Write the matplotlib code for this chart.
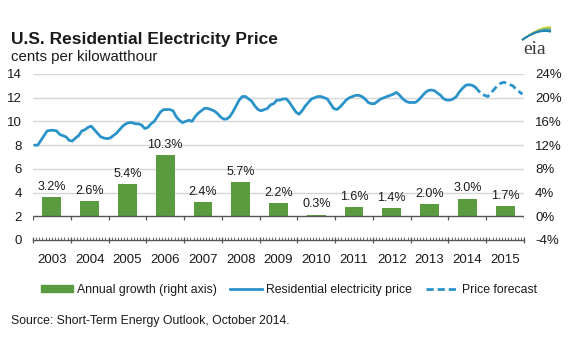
import matplotlib
matplotlib.use("Agg")
import matplotlib.pyplot as plt
from matplotlib.ticker import MultipleLocator, FixedLocator
from matplotlib.patches import Patch
from matplotlib.lines import Line2D
import numpy as np

plt.rcParams['font.family'] = ['Liberation Sans', 'DejaVu Sans']

years = list(range(2003, 2016))
growth = [3.2, 2.6, 5.4, 10.3, 2.4, 5.7, 2.2, 0.3, 1.6, 1.4, 2.0, 3.0, 1.7]
growth_labels = ["3.2%", "2.6%", "5.4%", "10.3%", "2.4%", "5.7%", "2.2%",
                 "0.3%", "1.6%", "1.4%", "2.0%", "3.0%", "1.7%"]

# monthly residential price, cents/kWh, Jan 2003 - Sep 2014 (history)
price_hist = [
    8.0, 8.0, 8.4, 8.8, 9.2, 9.25, 9.25, 9.2, 8.9, 8.8, 8.7, 8.4,        # 2003
    8.35, 8.6, 8.8, 9.2, 9.3, 9.5, 9.6, 9.3, 9.0, 8.7, 8.6, 8.55,        # 2004
    8.6, 8.8, 9.0, 9.3, 9.6, 9.8, 9.9, 9.9, 9.8, 9.8, 9.7, 9.4,          # 2005
    9.5, 9.8, 10.0, 10.4, 10.8, 11.0, 11.0, 11.0, 10.9, 10.4, 10.1, 9.9, # 2006
    10.0, 10.1, 10.0, 10.4, 10.7, 10.9, 11.1, 11.1, 11.0, 10.9, 10.7, 10.4,  # 2007
    10.2, 10.2, 10.4, 10.8, 11.3, 11.8, 12.1, 12.1, 11.9, 11.7, 11.3, 11.0,  # 2008
    10.9, 11.0, 11.1, 11.4, 11.5, 11.8, 11.8, 11.9, 11.9, 11.6, 11.2, 10.8,  # 2009
    10.6, 10.9, 11.3, 11.6, 11.9, 12.0, 12.1, 12.1, 12.0, 11.9, 11.5, 11.1,  # 2010
    11.0, 11.2, 11.5, 11.8, 12.0, 12.1, 12.2, 12.2, 12.1, 11.9, 11.6, 11.5,  # 2011
    11.5, 11.7, 11.9, 12.0, 12.1, 12.2, 12.3, 12.45, 12.2, 11.9, 11.7, 11.6, # 2012
    11.6, 11.6, 11.8, 12.1, 12.4, 12.6, 12.65, 12.6, 12.4, 12.2, 11.9, 11.8, # 2013
    11.8, 11.9, 12.1, 12.5, 12.8, 13.05, 13.1, 13.05, 12.9,                 # 2014 Jan-Sep
]
# forecast, Sep 2014 - Dec 2015
price_fcst = [
    12.9, 12.6, 12.3, 12.2,                                                # 2014 Sep-Dec
    12.1, 12.4, 12.7, 13.0, 13.2, 13.3, 13.25, 13.1, 13.0, 12.7, 12.5, 12.3, # 2015
]

left_ticks = [0, 2, 4, 6, 8, 10, 12, 14]
right_ticks = [-4, 0, 4, 8, 12, 16, 20, 24]
right_ticklabels = ["-4%", "0%", "4%", "8%", "12%", "16%", "20%", "24%"]

GREEN = "#5b9b40"
BLUE = "#2a93c9"
GRID = "#d6d6d6"
AXC = "#555555"
TXT = "#1a1a1a"

fig = plt.figure(figsize=(5.73, 3.43), dpi=100)
ax = fig.add_axes([33/573, 1-240/343, (524-33)/573, (240-74)/343])
ax2 = ax.twinx()

x0 = years[0]
n_hist = len(price_hist)
t_hist = x0 + (np.arange(n_hist) + 0.5) / 12
t_fcst = x0 + (np.arange(n_hist - 1, n_hist - 1 + len(price_fcst)) + 0.5) / 12

# left axis
ax.set_ylim(0, 14)
ax.set_xlim(x0, years[-1] + 1)
ax.set_yticks(left_ticks)

ax.plot(t_hist, price_hist, color=BLUE, lw=2.0, zorder=4, solid_capstyle='round')
ax.plot(t_fcst, price_fcst, color=BLUE, lw=2.0, zorder=4, dashes=(2.6, 1.4))

# right axis: gridlines (beneath bars), zero line, bars
ax2.set_ylim(-4, 24)
ax2.set_yticks(right_ticks)
ax2.set_yticklabels(right_ticklabels)
for v in right_ticks[2:]:
    ax2.axhline(v, color=GRID, lw=1.0, zorder=0)
bx = [y + 0.5 for y in years]
ax2.bar(bx, growth, width=0.5, color=GREEN, zorder=3)
ax2.axhline(0, color=AXC, lw=1.0, zorder=4)
ax2.vlines(np.arange(x0, years[-1] + 2), -0.55, 0, color=AXC, lw=0.9, zorder=4)
for xv, g, lab in zip(bx, growth, growth_labels):
    ax2.annotate(lab, xy=(xv, g), xytext=(0, 3), textcoords='offset points',
                 ha='center', va='bottom', fontsize=9, color=TXT)

ax.set_zorder(ax2.get_zorder() + 1)
ax.patch.set_visible(False)

for a in (ax, ax2):
    for s in ('top', 'left', 'right', 'bottom'):
        a.spines[s].set_visible(False)
ax.spines['bottom'].set_visible(True)
ax.spines['bottom'].set_color(AXC)
ax.spines['bottom'].set_linewidth(1.0)

ax.tick_params(axis='y', length=0, pad=8, labelsize=9.5, colors=TXT)
ax2.tick_params(axis='y', length=0, pad=8, labelsize=9.5, colors=TXT)

ax.xaxis.set_major_locator(FixedLocator(list(range(x0, years[-1] + 2))))
ax.xaxis.set_minor_locator(MultipleLocator(1/12))
ax.tick_params(axis='x', which='major', direction='inout', length=5, width=0.9,
               color=AXC, labelbottom=False)
ax.tick_params(axis='x', which='minor', direction='in', length=2.2, width=0.6,
               color=AXC)
for y in years:
    ax.annotate(str(y), xy=(y + 0.5, 0), xycoords=('data', 'axes fraction'),
                xytext=(0, -10), textcoords='offset points',
                ha='center', va='top', fontsize=9.5, color=TXT)

fig.text(11/573, 1-44/343, "U.S. Residential Electricity Price", fontsize=12.5,
         fontweight='bold', color=TXT, va='baseline', ha='left')
fig.text(11/573, 1-61/343, "cents per kilowatthour", fontsize=10.8,
         color=TXT, va='baseline', ha='left')
fig.text(11/573, 1-321/343, "Source: Short-Term Energy Outlook, October 2014.",
         fontsize=8.8, color=TXT, va='center', ha='left')

handles = [Patch(color=GREEN),
           Line2D([], [], color=BLUE, lw=2.0),
           Line2D([], [], color=BLUE, lw=2.0, dashes=(2.6, 1.4))]
labels = ["Annual growth (right axis)", "Residential electricity price", "Price forecast"]
leg = fig.legend(handles, labels, ncol=3, loc='center left',
                 bbox_to_anchor=(41/573, 1-290/343), frameon=False,
                 fontsize=8.8, handlelength=2.6, handleheight=0.55, handletextpad=0.35,
                 columnspacing=1.1, borderpad=0, borderaxespad=0)
for t in leg.get_texts():
    t.set_color(TXT)

# eia logo: text plus coloured swoosh
fig.text(535/573, 1-54/343, "eia", fontsize=14, color="#3a3a3a", ha='center',
         va='baseline', family=['Liberation Serif', 'DejaVu Serif'])
s = np.linspace(0, 1, 40)
for dy, col in [(0.0, "#e6d24a"), (1.6, "#8cc04e"), (3.2, "#3aa0c0"), (4.8, "#1f7fae")]:
    px = 522 + 29 * s
    py = 40 - 13 * np.sin(s * np.pi / 2) + dy * s ** 1.5
    fig.add_artist(Line2D(px / 573, 1 - py / 343, color=col, lw=1.3,
                          transform=fig.transFigure, solid_capstyle='butt'))

fig.savefig("out.png", dpi=100)
